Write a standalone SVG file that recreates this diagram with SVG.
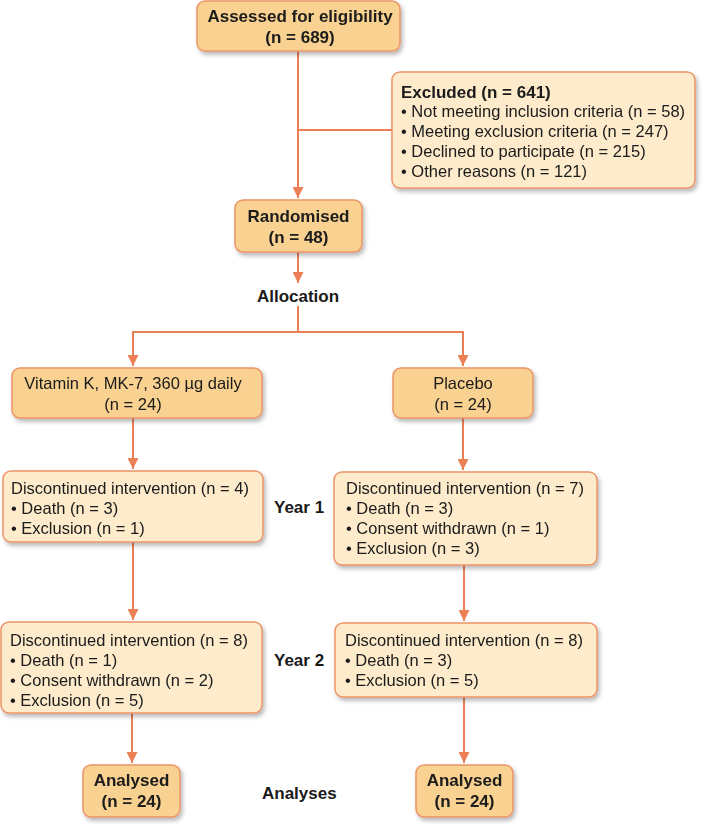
<svg xmlns="http://www.w3.org/2000/svg" width="706" height="824" viewBox="0 0 706 824">
<style>
.dark{fill:#F9D190;stroke:#EB9468;stroke-width:1.5}
.light{fill:#FDEBCB;stroke:#EB9468;stroke-width:1.5}
text{font-family:"Liberation Sans",Arial,sans-serif;font-size:16.5px;fill:#1a1a1a}
.b{font-weight:bold;font-size:17px}
.c{text-anchor:middle}
.conn{stroke:#EB7F55;stroke-width:2;fill:none}
</style>
<defs>
<filter id="sh" x="-10%" y="-10%" width="130%" height="140%">
<feDropShadow dx="2" dy="3" stdDeviation="2" flood-color="#000" flood-opacity="0.28"/>
</filter>
<marker id="ah" viewBox="0 0 10 10" refX="10" refY="5" markerWidth="5.5" markerHeight="5.5" orient="auto" markerUnits="strokeWidth">
<path d="M0,0 L10,5 L0,10 z" fill="#EB7F55"/>
</marker>
</defs>
<rect width="706" height="824" fill="#fff"/>
<g id="connectors">
<path class="conn" d="M298,52 V198" marker-end="url(#ah)"/>
<path class="conn" d="M298,130 H392"/>
<path class="conn" d="M298,252 V283" marker-end="url(#ah)"/>
<path class="conn" d="M298,306 V332 M132,332 H464"/>
<path class="conn" d="M133,332 V366" marker-end="url(#ah)"/>
<path class="conn" d="M463,332 V366" marker-end="url(#ah)"/>
<path class="conn" d="M133,418 V469" marker-end="url(#ah)"/>
<path class="conn" d="M463,418 V470" marker-end="url(#ah)"/>
<path class="conn" d="M133,542 V620" marker-end="url(#ah)"/>
<path class="conn" d="M464,565 V621" marker-end="url(#ah)"/>
<path class="conn" d="M132,713 V763" marker-end="url(#ah)"/>
<path class="conn" d="M464,697 V763" marker-end="url(#ah)"/>
</g>
<g id="assessed" filter="url(#sh)">
<rect class="dark" x="197" y="1" width="203" height="50" rx="8"/>
<text class="b c" x="300" y="22">Assessed for eligibility</text>
<text class="b c" x="300" y="43">(n = 689)</text>
</g>
<g id="excluded" filter="url(#sh)">
<rect class="light" x="392" y="72" width="303" height="116" rx="8"/>
<text x="401" y="98"><tspan class="b">Excluded (n = 641)</tspan></text>
<text x="401" y="117">• Not meeting inclusion criteria (n = 58)</text>
<text x="401" y="137">• Meeting exclusion criteria (n = 247)</text>
<text x="401" y="157">• Declined to participate (n = 215)</text>
<text x="401" y="177">• Other reasons (n = 121)</text>
</g>
<g id="randomised" filter="url(#sh)">
<rect class="dark" x="235" y="200" width="127" height="52" rx="8"/>
<text class="b c" x="298.5" y="222">Randomised</text>
<text class="b c" x="298.5" y="243">(n = 48)</text>
</g>
<g id="allocation">
<text class="b c" x="298" y="302">Allocation</text>
</g>
<g id="vitk" filter="url(#sh)">
<rect class="dark" x="12" y="368" width="250" height="50" rx="8"/>
<text class="c" x="133" y="389">Vitamin K, MK-7, 360 µg daily</text>
<text class="c" x="133" y="410">(n = 24)</text>
</g>
<g id="placebo" filter="url(#sh)">
<rect class="dark" x="393" y="368" width="140" height="50" rx="8"/>
<text class="c" x="463" y="389">Placebo</text>
<text class="c" x="463" y="410">(n = 24)</text>
</g>
<g id="y1left" filter="url(#sh)">
<rect class="light" x="3" y="471" width="260" height="71" rx="8"/>
<text x="11" y="494">Discontinued intervention (n = 4)</text>
<text x="11" y="514">• Death (n = 3)</text>
<text x="11" y="534">• Exclusion (n = 1)</text>
</g>
<g id="year1">
<text class="b" x="274" y="513">Year 1</text>
</g>
<g id="y1right" filter="url(#sh)">
<rect class="light" x="334" y="472" width="263" height="93" rx="8"/>
<text x="346" y="494">Discontinued intervention (n = 7)</text>
<text x="346" y="514">• Death (n = 3)</text>
<text x="346" y="534">• Consent withdrawn (n = 1)</text>
<text x="346" y="554">• Exclusion (n = 3)</text>
</g>
<g id="y2left" filter="url(#sh)">
<rect class="light" x="1" y="622" width="261" height="91" rx="8"/>
<text x="10" y="646">Discontinued intervention (n = 8)</text>
<text x="10" y="666">• Death (n = 1)</text>
<text x="10" y="686">• Consent withdrawn (n = 2)</text>
<text x="10" y="706">• Exclusion (n = 5)</text>
</g>
<g id="year2">
<text class="b" x="274" y="666">Year 2</text>
</g>
<g id="y2right" filter="url(#sh)">
<rect class="light" x="335" y="623" width="262" height="74" rx="8"/>
<text x="345" y="646">Discontinued intervention (n = 8)</text>
<text x="345" y="666">• Death (n = 3)</text>
<text x="345" y="686">• Exclusion (n = 5)</text>
</g>
<g id="analysedleft" filter="url(#sh)">
<rect class="dark" x="83" y="765" width="97" height="52" rx="8"/>
<text class="b c" x="131.5" y="786">Analysed</text>
<text class="b c" x="131.5" y="807">(n = 24)</text>
</g>
<g id="analyses">
<text class="b" x="262" y="799">Analyses</text>
</g>
<g id="analysedright" filter="url(#sh)">
<rect class="dark" x="416" y="765" width="97" height="52" rx="8"/>
<text class="b c" x="464.5" y="786">Analysed</text>
<text class="b c" x="464.5" y="807">(n = 24)</text>
</g>
</svg>
